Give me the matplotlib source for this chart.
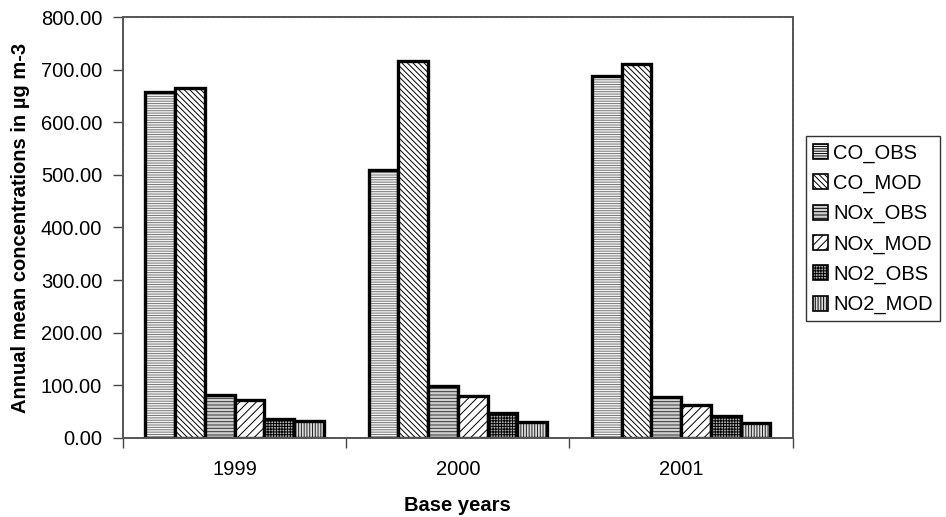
import numpy as np
import matplotlib
matplotlib.use("Agg")
import matplotlib.pyplot as plt

plt.rcParams['font.family'] = ['Liberation Sans', 'DejaVu Sans']
plt.rcParams['hatch.linewidth'] = 0.7

years = ["1999", "2000", "2001"]
series = ["CO_OBS", "CO_MOD", "NOx_OBS", "NOx_MOD", "NO2_OBS", "NO2_MOD"]
co_obs = [658, 510, 688]
co_mod = [665, 717, 710]
nox_obs = [82, 99, 77]
nox_mod = [72, 80, 63]
no2_obs = [36, 47, 41]
no2_mod = [33, 31, 28]
values = [co_obs, co_mod, nox_obs, nox_mod, no2_obs, no2_mod]

hatches = ["-------", "\\\\\\\\\\\\", "-----", "////", "++++++", "||||||"]
faces = ["#f4f4f4", "white", "#d0d0d0", "white", "#b0b0b0", "#dcdcdc"]
hcolors = ["#777777", "black", "#333333", "black", "black", "#222222"]

fig = plt.figure(figsize=(9.46, 5.17), dpi=100)
ax = fig.add_axes([0.130, 0.153, 0.708, 0.814])

x = np.arange(len(years))
w = 1.0 / 7.5
for j, (name, vals) in enumerate(zip(series, values)):
    ax.bar(x + (j - 2.5) * w, vals, width=w, facecolor=faces[j],
           edgecolor=hcolors[j], hatch=hatches[j], linewidth=0, label=name)
    # thick black outline drawn separately so the hatch colour can differ
    ax.bar(x + (j - 2.5) * w, vals, width=w, facecolor="none",
           edgecolor="black", linewidth=2.4)

ax.set_xlim(-0.5, 2.5)
ax.set_ylim(0, 800)
ax.set_yticks(np.arange(0, 801, 100))
ax.set_yticklabels(["%.2f" % v for v in np.arange(0, 801, 100)], fontsize=14.5)
ax.set_xticks(x)
ax.set_xticklabels(years, fontsize=14.5)
ax.tick_params(axis="x", which="major", length=0, pad=16)
ax.set_xticks([-0.5, 0.5, 1.5, 2.5], minor=True)
ax.tick_params(axis="x", which="minor", length=7, width=1, direction="out", color="#444444")
ax.tick_params(axis="y", length=7, width=1, direction="out", color="#444444", pad=8)

for side in ["left", "right", "top", "bottom"]:
    ax.spines[side].set_color("#555555")
    ax.spines[side].set_linewidth(1.4)
    ax.spines[side].set_linestyle((0, (2, 0.6)))

ax.set_ylabel("Annual mean concentrations in µg m-3", fontsize=14.5,
              fontweight="bold", labelpad=8)
ax.set_xlabel("Base years", fontsize=14.5, fontweight="bold", labelpad=12)

handles = [plt.Rectangle((0, 0), 1, 1, facecolor=faces[j], edgecolor="black",
                         hatch=hatches[j], linewidth=1.2) for j in range(6)]
leg = fig.legend(handles, series, loc="upper left", bbox_to_anchor=(0.852, 0.736),
                 fontsize=14.5, frameon=True, fancybox=False, handlelength=0.75,
                 handleheight=0.75, handletextpad=0.25, labelspacing=0.55,
                 borderpad=0.35, borderaxespad=0)
leg.get_frame().set_edgecolor("black")
leg.get_frame().set_linewidth(1.0)

fig.savefig("out.png", dpi=100)
